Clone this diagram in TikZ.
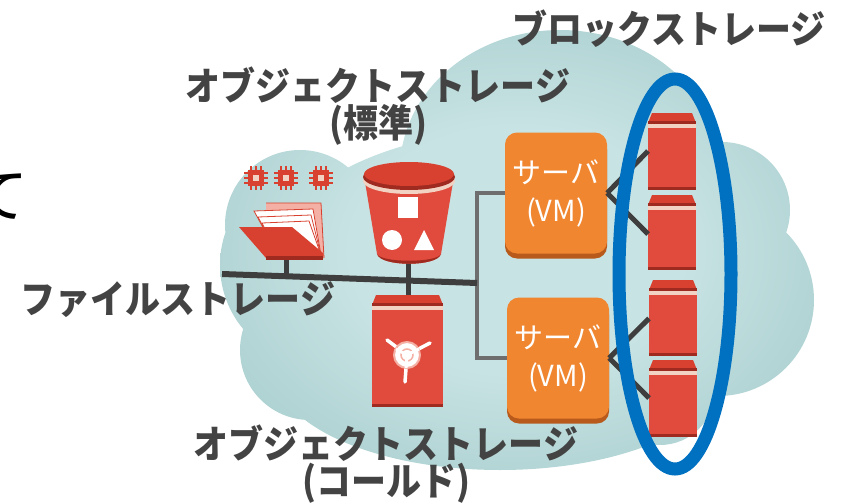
\documentclass[tikz,border=0pt]{standalone}
\usepackage{fontspec}
\setmainfont{Noto Sans CJK JP}
\usetikzlibrary{calc}

\definecolor{cloudA}{HTML}{C8E3E3}
\definecolor{cloudB}{HTML}{A3CACB}
\definecolor{cloudC}{HTML}{7DABAD}
\definecolor{labelgray}{HTML}{434343}
\definecolor{srvorange}{HTML}{F08630}
\definecolor{srvdark}{HTML}{B85A1C}
\definecolor{awsred}{HTML}{E04B3D}
\definecolor{awscap}{HTML}{D8412F}
\definecolor{awsdark}{HTML}{9E2A20}
\definecolor{awscream}{HTML}{F2D2C2}
\definecolor{awspink}{HTML}{F4B0A4}
\definecolor{wiredark}{HTML}{3E3E3E}
\definecolor{wiregray}{HTML}{6E6E6E}
\definecolor{ringblue}{HTML}{0070C0}

\pgfdeclareradialshading{cloudshade}{\pgfpoint{0bp}{0bp}}{%
  color(0bp)=(cloudA); color(14bp)=(cloudA); color(34bp)=(cloudB); color(50bp)=(cloudC)}

% red storage box: #1 name, #2 left x, #3 right x, #4 top y, #5 bottom y
\newcommand\volbox[5]{%
  \fill[awscap] (#2+4,#4) -- (#3-4,#4) -- (#3,#4+10) -- (#2,#4+10) -- cycle;
  \fill[awsdark] (#2,#4+8) rectangle (#3,#4+11);
  \fill[awscream] (#2,#4+11) rectangle (#3,#4+15);
  \fill[awsred] (#2,#4+15) rectangle (#3,#5);
  \fill[awsdark] (#2,#5-3) rectangle (#3,#5);
  \coordinate (#1) at (#2,{(#4+15+#5)/2});
}

\tikzset{
  lbl/.style={text=labelgray, font=\fontsize{35}{30}\selectfont\bfseries, align=center,
    inner sep=0pt, transform shape, yscale=1.1},
  srv/.style={rounded corners=12pt, fill=srvorange, minimum width=102pt, minimum height=121pt,
    text=white, align=center, font=\fontsize{29}{38}\selectfont, inner sep=0pt,
    preaction={fill=srvdark, transform canvas={yshift=-5pt}}},
  bus/.style={draw=wiredark, line width=6pt},
  stem/.style={draw=wiredark, line width=5pt},
  link/.style={draw=wiregray, line width=4pt},
  vlink/.style={draw=wiredark, line width=5pt},
}

\begin{document}
\begin{tikzpicture}[x=1pt,y=-1pt]
\useasboundingbox (0,0) rectangle (846,503);

% cloud
\shade[shading=cloudshade]
  (320,265) circle[radius=100pt]
  (300,225) circle[radius=75pt]
  (560,170) ellipse[x radius=160pt, y radius=140pt]
  (722,210) circle[radius=68pt]
  (718,300) circle[radius=96pt]
  (500,370) ellipse[x radius=225pt, y radius=100pt]
  (310,350) circle[radius=70pt]
  (520,280) ellipse[x radius=260pt, y radius=150pt]
  (660,390) circle[radius=55pt];

% left text fragment
\node[anchor=east, inner sep=0pt, font=\fontsize{60}{60}\selectfont] (te) at (29,197) {て};

% labels
\node[lbl] (blk) at (669,29) {ブロックストレージ};
\node[lbl] (objstd) at (378,106) {オブジェクトストレージ\\(標準)};
\node[lbl] (file) at (178,300) {ファイルストレージ};
\node[lbl] (objcold) at (386,464) {オブジェクトストレージ\\(コールド)};

% servers
\node[srv] (srv1) at (556,193) {サーバ\\(VM)};
\node[srv] (srv2) at (558,358) {サーバ\\(VM)};

% anchor points of the network
\coordinate (busL) at (222,274);
\coordinate (busR) at (477,283);
\coordinate (folder) at (286,258);
\coordinate (bucket) at (408,262);
\coordinate (vault) at (408,296);

% network wiring
\draw[link] (srv1.west) -| (busR) |- (srv2.west);
\draw[bus] (busL) -- (busR);
\draw[stem] (folder) -- (folder |- busL);
\draw[stem] (bucket) -- (vault);

% block storage volumes
\volbox{vol1}{648}{696}{113}{190}
\volbox{vol2}{648}{696}{195}{270}
\volbox{vol3}{649}{697}{280}{356}
\volbox{vol4}{649}{697}{360}{437}

\draw[vlink] (srv1.east) -- ([yshift=8pt]vol1);
\draw[vlink] (srv1.east) -- ([yshift=6pt]vol2);
\draw[vlink] (srv2.east) -- ([yshift=7pt]vol3);
\draw[vlink] (srv2.east) -- ([yshift=8pt]vol4);

% ring around block storage
\draw[ringblue, line width=13pt] (675,274) ellipse[x radius=56pt, y radius=195pt];

% chips
\foreach \cx in {256,286,321} {
  \foreach \d in {-5,0,5} {
    \draw[awscap, line width=2pt] (\cx+\d,166) -- (\cx+\d,190);
    \draw[awscap, line width=2pt] (\cx-12,178+\d) -- (\cx+12,178+\d);
  }
  \fill[awscap] (\cx-8,170) rectangle (\cx+8,186);
  \fill[awscream] (\cx-3,175) rectangle (\cx+3,181);
}

% folder
\fill[awspink] (266,203) -- (321,203) -- (324,258) -- (266,258) -- cycle;
\draw[awscap, line width=0.8pt] (266,203) -- (321,203) -- (324,258);
\foreach \k in {0,1,2} {
  \fill[white, draw=awscap, line width=0.8pt]
    (254+4*\k,211+6*\k) -- (313-2*\k,209+6*\k) -- (321,255) -- (278,255) -- cycle;
}
\fill[awscap] (239,227) -- (292,227) -- (323,253) -- (323,258) -- (266,258) -- cycle;
\fill[awsdark] (266,256) -- (323,256) -- (323,260) -- (266,260) -- cycle;

% bucket
\fill[awsred] (364,176) -- (377,254) .. controls (381,267) and (437,267) .. (441,254) -- (454,176) -- cycle;
\fill[awsdark] (377,254) .. controls (381,267) and (437,267) .. (441,254)
  .. controls (437,263) and (381,263) .. (377,254) -- cycle;
\fill[awscream] (409,181) ellipse[x radius=46pt, y radius=13pt];
\fill[awsdark] (409,177) ellipse[x radius=46pt, y radius=13pt];
\fill[awscap] (409,174) ellipse[x radius=45pt, y radius=12pt];
\fill[white] (398,197) rectangle (418,218);
\fill[white] (392,240) circle[radius=10pt];
\fill[white] (424,230) -- (434,250) -- (414,250) -- cycle;

% cold storage vault
\volbox{vaultbox}{372}{443}{295}{407}
\draw[white, line width=3.5pt, line cap=round] (407,355) -- (387,340);
\draw[white, line width=3.5pt, line cap=round] (407,355) -- (430,343);
\draw[white, line width=3.5pt, line cap=round] (407,355) -- (405,382);
\fill[white, draw=awspink, line width=2pt] (407,355) circle[radius=13pt];
\draw[awspink, line width=1.5pt] (407,355) circle[radius=6pt];
\draw[white, line width=3pt] (407,355) -- (396,349) (407,355) -- (419,349) (407,355) -- (406,368);
\end{tikzpicture}
\end{document}
